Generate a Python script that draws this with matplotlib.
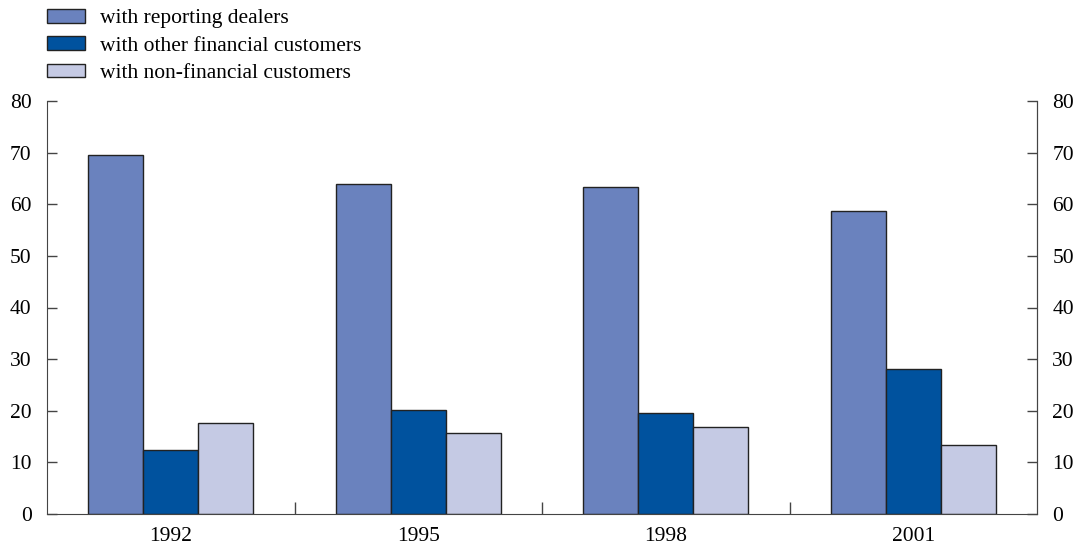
import numpy as np
import matplotlib.pyplot as plt
from matplotlib.patches import Patch

plt.rcParams['font.family'] = ['Liberation Serif', 'DejaVu Serif']

years = ['1992', '1995', '1998', '2001']
reporting_dealers = [69.6, 63.9, 63.3, 58.7]
other_financial = [12.4, 20.1, 19.6, 28.1]
non_financial = [17.7, 15.7, 16.9, 13.4]
series_labels = ['with reporting dealers', 'with other financial customers',
                 'with non-financial customers']
colors = ['#6A82BE', '#00529E', '#C5CAE4']
fs = 15.5

fig = plt.figure(figsize=(10.84, 5.46), dpi=100)
ax = fig.add_axes([47 / 1084, 32 / 546, 990 / 1084, 413 / 546])

x = np.arange(len(years))
w = 0.222
for k, vals in enumerate([reporting_dealers, other_financial, non_financial]):
    ax.bar(x + (k - 1) * w, vals, w, color=colors[k], edgecolor='#222222',
           linewidth=1.0, zorder=2)

ax.set_xlim(-0.5, 3.5)
ax.set_ylim(0, 80)
ax.set_yticks(range(0, 81, 10))
ax.set_xticks(x)
ax.set_xticklabels(years, fontsize=fs)
ax.set_xticks([0.5, 1.5, 2.5], minor=True)
ax.tick_params(axis='x', which='major', length=0, pad=9.5)
ax.tick_params(axis='x', which='minor', direction='in', length=9, width=1,
               color='#444444')
ax.tick_params(axis='y', direction='in', length=7, width=1, color='#444444',
               labelsize=fs, pad=11)
ax.spines['top'].set_visible(False)
for s in ['left', 'right', 'bottom']:
    ax.spines[s].set_color('#444444')

ax2 = ax.twinx()
ax2.set_ylim(0, 80)
ax2.set_yticks(range(0, 81, 10))
ax2.tick_params(axis='y', direction='in', length=7, width=1, color='#444444',
                labelsize=fs, pad=11)
for s in ['top', 'left', 'bottom']:
    ax2.spines[s].set_visible(False)
ax2.spines['right'].set_color('#444444')

handles = [Patch(facecolor=c, edgecolor='#222222', linewidth=1.0) for c in colors]
fig.legend(handles, series_labels, loc='upper left',
           bbox_to_anchor=(47 / 1084, 1 - 9 / 546), frameon=False, fontsize=fs,
           handlelength=1.77, handleheight=0.6, labelspacing=0.37,
           handletextpad=0.7, borderpad=0, borderaxespad=0)

fig.savefig('out.png', dpi=100)
